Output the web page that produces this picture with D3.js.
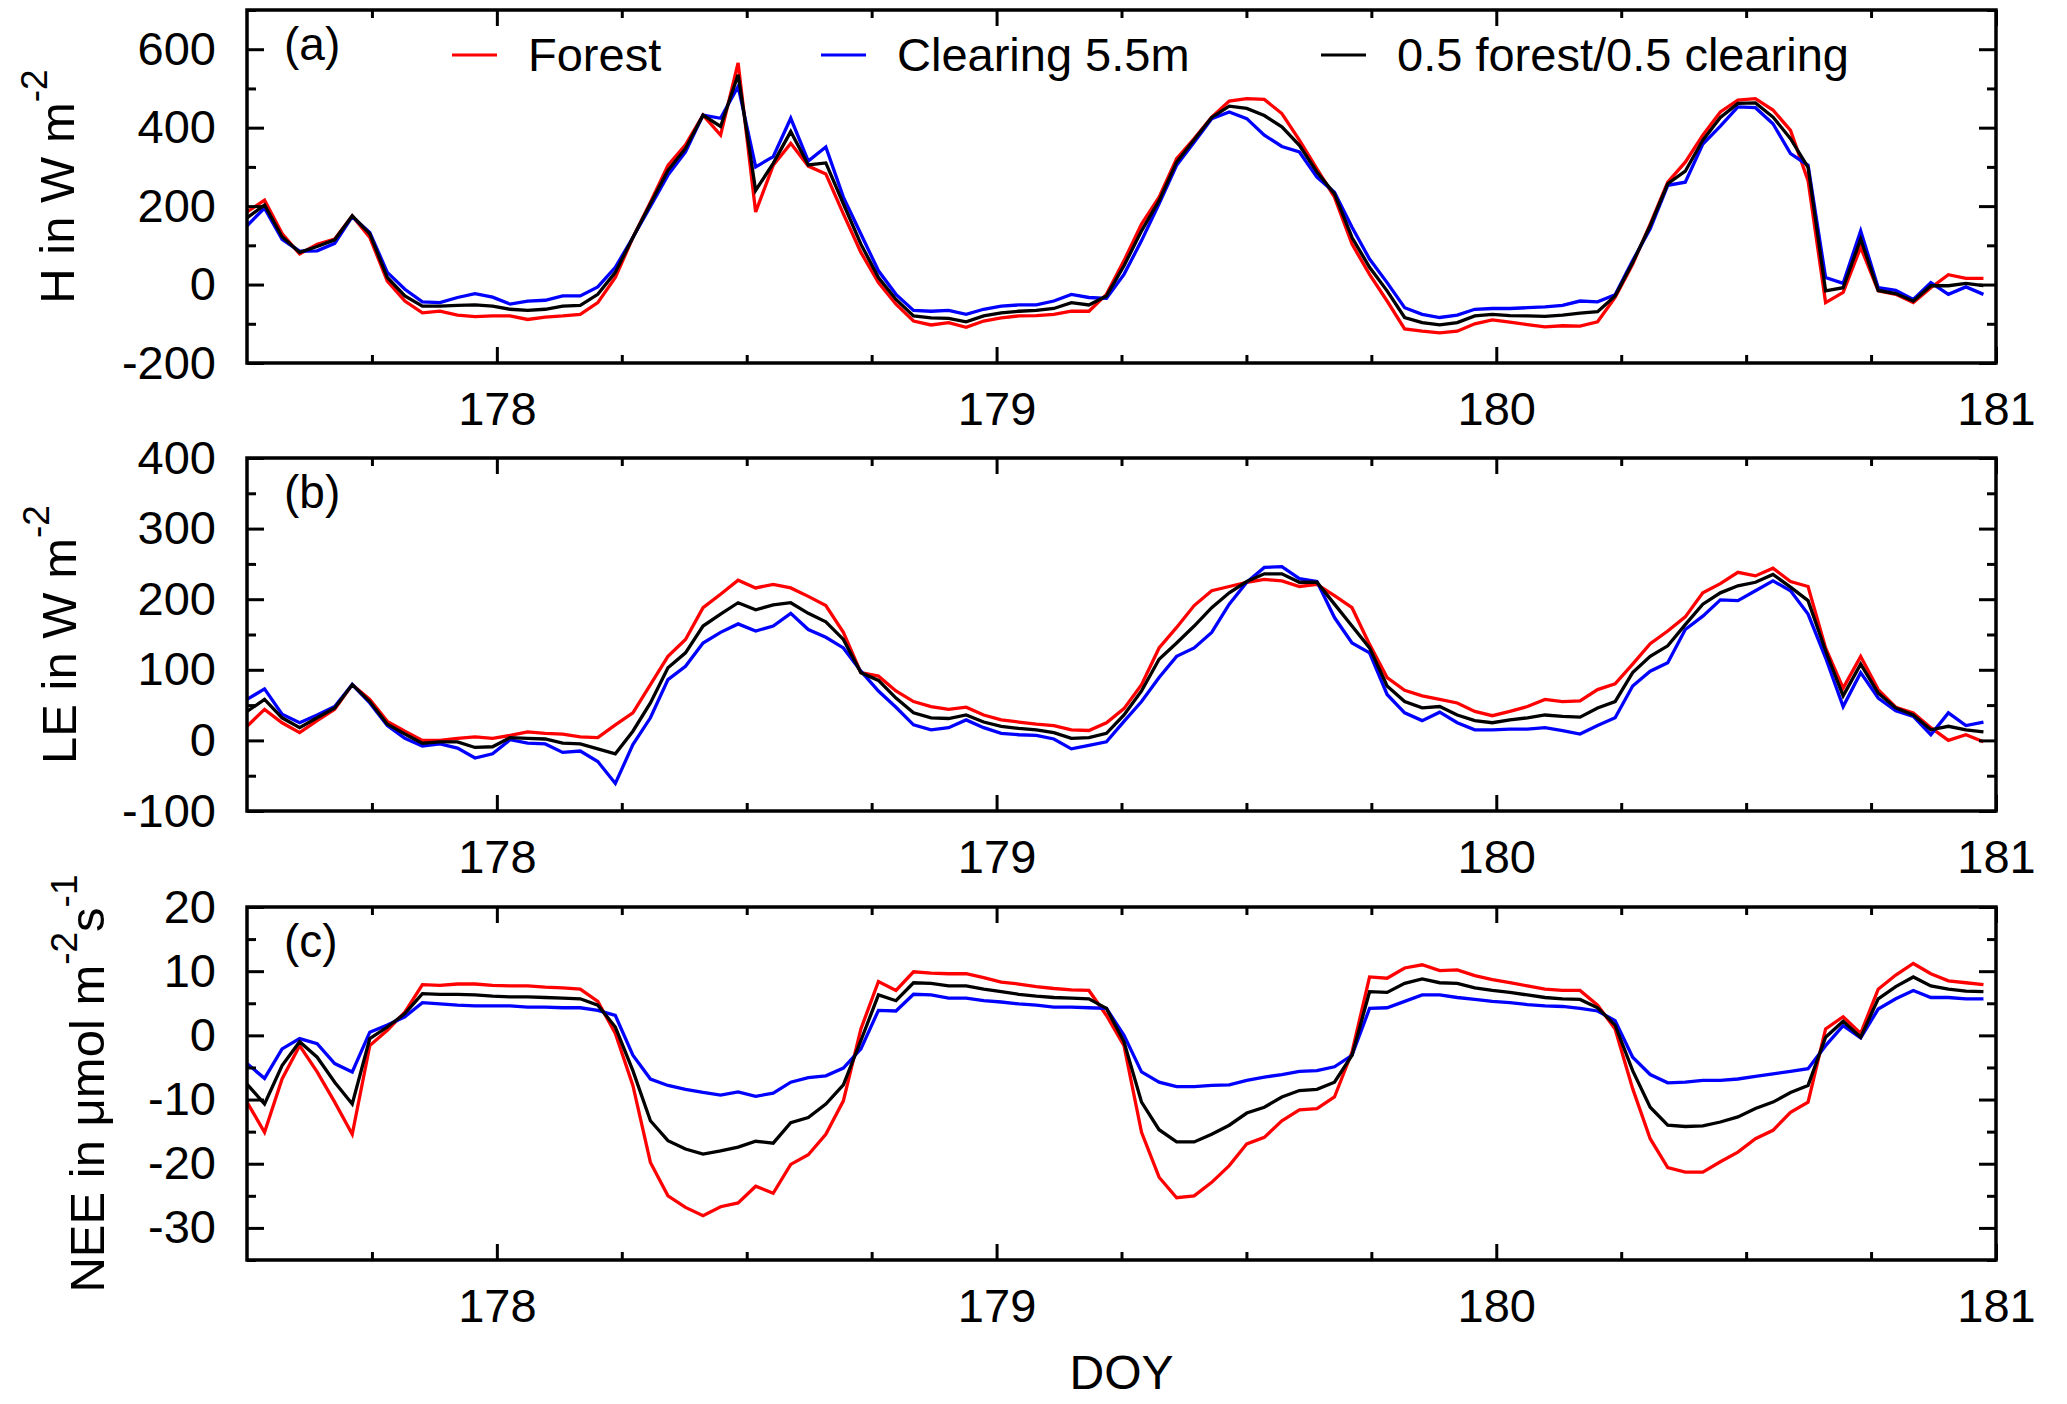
<!DOCTYPE html>
<html>
<head>
<meta charset="utf-8">
<script src="https://cdn.jsdelivr.net/npm/d3@7"></script>
<style>
body { margin: 0; background: #fff; }
svg text { font-family: "Liberation Sans", Arial, Helvetica, sans-serif; fill: #000; }
</style>
</head>
<body>
<div id="chart"></div>
<script>
var width = 2067;
var height = 1404;
var plotLeft = 247;
var plotRight = 1996;

// DOY of each sample: regular sampling, one value every 0.0351 day from 177.5
var doy = d3.range(100).map(i => 177.5 + i * 0.0351);

// (a) sensible heat flux H, W m-2
var hForest = [185, 215, 130, 78, 103, 116, 175, 120, 9, -42, -72, -68, -78, -82, -80, -80, -89, -83, -80, -76,
    -46, 18, 120, 210, 304, 356, 432, 381, 565, 185, 304, 360, 302, 282, 180, 82, 5, -50, -93, -103,
    -97, -109, -93, -85, -80, -79, -76, -68, -68, -25, 61, 154, 223, 321, 372, 427, 468, 474, 472, 436,
    368, 295, 223, 103, 26, -42, -113, -119, -123, -119, -100, -90, -96, -102, -108, -105, -106, -95, -33, 52,
    154, 261, 312, 381, 440, 470, 474, 445, 393, 265, -46, -20, 95, -16, -25, -46, -8, 25, 16, 16];
var hClearing = [150, 195, 115, 85, 86, 105, 173, 133, 31, -12, -44, -46, -33, -23, -32, -50, -42, -40, -29, -29,
    -6, 44, 120, 199, 279, 338, 432, 424, 505, 300, 326, 424, 315, 351, 223, 129, 35, -25, -66, -68,
    -66, -76, -63, -55, -52, -52, -42, -25, -33, -35, 26, 112, 206, 304, 363, 423, 440, 423, 381, 352,
    338, 274, 235, 146, 65, 5, -59, -76, -84, -78, -63, -61, -61, -59, -57, -53, -42, -44, -26, 61,
    142, 253, 261, 358, 404, 453, 451, 410, 334, 304, 18, 3, 137, -8, -15, -38, 5, -25, -6, -25];
var hMix = [170, 203, 122, 82, 97, 114, 175, 129, 18, -29, -55, -55, -53, -52, -55, -63, -66, -63, -55, -53,
    -25, 31, 120, 206, 291, 347, 432, 403, 535, 240, 309, 390, 305, 310, 206, 103, 18, -38, -80, -85,
    -86, -95, -80, -72, -68, -66, -61, -46, -52, -29, 48, 137, 214, 312, 369, 426, 455, 449, 431, 402,
    355, 287, 231, 120, 44, -16, -84, -97, -103, -97, -80, -76, -79, -80, -81, -78, -73, -69, -29, 56,
    150, 257, 289, 368, 426, 462, 463, 427, 372, 299, -16, -8, 116, -15, -23, -42, -3, -3, 3, -3];

// (b) latent heat flux LE, W m-2
var leForest = [20, 44, 25, 11, 28, 44, 79, 58, 27, 13, 0, 0, 3, 5, 3, 7, 12, 10, 9, 5,
    4, 22, 39, 79, 119, 143, 188, 207, 227, 216, 221, 216, 204, 191, 153, 96, 91, 70, 55, 48,
    44, 47, 36, 29, 26, 23, 21, 15, 14, 25, 45, 79, 131, 160, 191, 212, 218, 224, 228, 226,
    218, 221, 205, 188, 136, 89, 71, 63, 58, 53, 41, 35, 41, 48, 58, 55, 56, 72, 80, 108,
    137, 155, 175, 209, 222, 238, 233, 244, 225, 218, 131, 74, 119, 72, 47, 39, 18, 0, 8, -2];
var leClearing = [58, 73, 37, 25, 36, 48, 79, 53, 21, 3, -8, -5, -11, -25, -19, 1, -4, -5, -17, -15,
    -30, -61, -6, 32, 86, 105, 138, 153, 165, 155, 162, 180, 157, 146, 131, 98, 70, 47, 22, 15,
    18, 29, 18, 10, 8, 7, 2, -12, -7, -2, 27, 55, 89, 119, 131, 153, 193, 224, 245, 246,
    229, 225, 174, 138, 124, 65, 39, 28, 40, 25, 15, 15, 16, 16, 18, 14, 9, 21, 32, 77,
    98, 110, 157, 176, 199, 198, 212, 226, 212, 179, 117, 48, 96, 60, 42, 34, 8, 39, 21, 26];
var leMix = [41, 58, 32, 18, 32, 46, 79, 55, 23, 9, -4, -2, -2, -10, -9, 4, 3, 2, -4, -5,
    -12, -19, 13, 53, 103, 124, 162, 179, 195, 185, 192, 195, 180, 168, 143, 96, 85, 60, 39, 32,
    31, 36, 26, 20, 17, 15, 11, 3, 4, 10, 36, 70, 115, 138, 162, 188, 209, 225, 236, 236,
    224, 224, 193, 162, 131, 77, 55, 46, 48, 36, 28, 25, 29, 32, 36, 34, 33, 46, 55, 96,
    119, 134, 164, 193, 209, 219, 224, 235, 217, 198, 127, 63, 108, 67, 46, 36, 15, 20, 15, 12];

// (c) net ecosystem exchange NEE, umol m-2 s-1
var neeForest = [-10.4, -15.1, -6.8, -1.6, -5.7, -10.4, -15.4, -1.6, 0.8, 3.6, 7.9, 7.8, 8.0, 8.0, 7.8, 7.7, 7.7, 7.5, 7.4, 7.2,
    5.3, 0.3, -7.8, -19.8, -25.0, -26.8, -28.1, -26.7, -26.1, -23.5, -24.6, -20.1, -18.6, -15.4, -10.2, 1.0, 8.4, 7.0, 9.9, 9.7,
    9.6, 9.6, 9.0, 8.3, 8.0, 7.6, 7.3, 7.1, 7.0, 3.1, -1.6, -15.1, -22.1, -25.3, -25.0, -22.9, -20.3, -16.9, -15.9, -13.3,
    -11.6, -11.4, -9.6, -2.6, 9.1, 8.9, 10.5, 11.0, 10.1, 10.2, 9.3, 8.7, 8.2, 7.7, 7.2, 7.0, 7.0, 4.7, 1.0, -8.3,
    -16.1, -20.6, -21.3, -21.3, -19.7, -18.2, -16.1, -14.8, -12.0, -10.4, 1.0, 2.9, 0.3, 7.2, 9.4, 11.2, 9.6, 8.5, 8.2, 7.9];
var neeClearing = [-4.4, -6.7, -2.1, -0.5, -1.3, -4.4, -5.7, 0.5, 1.6, 2.9, 5.1, 4.9, 4.7, 4.6, 4.6, 4.6, 4.4, 4.4, 4.3, 4.3,
    3.9, 3.1, -3.1, -6.8, -7.8, -8.4, -8.9, -9.3, -8.8, -9.5, -9.0, -7.3, -6.6, -6.3, -5.1, -2.1, 3.9, 3.8, 6.4, 6.3,
    5.8, 5.8, 5.4, 5.2, 4.9, 4.7, 4.4, 4.4, 4.3, 4.2, 0.0, -5.7, -7.3, -8.0, -8.0, -7.8, -7.7, -7.0, -6.5, -6.1,
    -5.6, -5.5, -4.9, -3.1, 4.2, 4.3, 5.3, 6.3, 6.3, 5.9, 5.6, 5.3, 5.1, 4.8, 4.6, 4.5, 4.2, 3.8, 2.3, -3.4,
    -6.1, -7.4, -7.3, -7.0, -7.0, -6.8, -6.4, -6.0, -5.6, -5.2, -1.6, 1.5, -0.4, 4.1, 5.7, 7.0, 5.9, 5.9, 5.7, 5.7];
var neeMix = [-7.6, -10.7, -4.7, -1.0, -3.4, -7.3, -10.7, -0.5, 1.3, 3.4, 6.5, 6.4, 6.4, 6.3, 6.1, 6.0, 6.0, 5.9, 5.8, 5.7,
    4.7, 1.3, -5.5, -13.3, -16.4, -17.7, -18.5, -18.0, -17.4, -16.5, -16.8, -13.6, -12.8, -10.7, -7.7, -0.8, 6.3, 5.4, 8.2, 8.1,
    7.7, 7.7, 7.2, 6.8, 6.4, 6.1, 5.9, 5.8, 5.7, 4.2, -1.0, -10.4, -14.7, -16.6, -16.6, -15.4, -14.0, -12.1, -11.2, -9.6,
    -8.6, -8.4, -7.3, -3.1, 6.8, 6.7, 8.1, 8.8, 8.2, 8.1, 7.4, 7.0, 6.7, 6.3, 5.9, 5.7, 5.6, 4.3, 1.6, -5.5,
    -11.2, -14.0, -14.2, -14.1, -13.5, -12.7, -11.4, -10.4, -8.9, -7.8, -0.3, 2.2, -0.3, 5.7, 7.6, 9.1, 7.7, 7.2, 6.9, 6.8];

var xTicks = [178, 179, 180, 181];
var hTicks = [-200, 0, 200, 400, 600];
var leTicks = [-100, 0, 100, 200, 300, 400];
var neeTicks = [-30, -20, -10, 0, 10, 20];
var seriesNames = ["Forest", "Clearing 5.5m", "0.5 forest/0.5 clearing"];
var seriesColors = ["#ff0000", "#0000ff", "#000000"];

var panels = [
    { top: 10, bottom: 363, domain: [-200, 700], ticks: hTicks, minorStep: 100,
      series: [hForest, hClearing, hMix], letter: "(a)", labelX: 74,
      label: [["H in W m", 0], ["-2", 1]] },
    { top: 458, bottom: 811, domain: [-100, 400], ticks: leTicks, minorStep: 50,
      series: [leForest, leClearing, leMix], letter: "(b)", labelX: 76,
      label: [["LE in W m", 0], ["-2", 1]] },
    { top: 907, bottom: 1260, domain: [-35, 20], ticks: neeTicks, minorStep: 5,
      series: [neeForest, neeClearing, neeMix], letter: "(c)", labelX: 104,
      label: [["NEE in \u03bcmol m", 0], ["-2", 1], ["s", 0], ["-1", 1]] }
];

var x = d3.scaleLinear()
    .domain([177.5, 181])
    .range([plotLeft, plotRight]);

var xMinor = d3.range(177.75, 181, 0.25).filter(v => !xTicks.includes(v));

// plain labels: "178", "-200" (ascii hyphen like the original)
var plain = d => String(d);

var svg = d3.select("#chart")
    .append("svg")
    .attr("width", width)
    .attr("height", height);

function styleTicks(g) {
    g.select(".domain").remove();
    g.selectAll(".tick line")
        .attr("stroke", "#000")
        .attr("stroke-width", 3);
    g.selectAll(".tick text")
        .style("font-size", "47px")
        .style("font-family", "'Liberation Sans', Arial, sans-serif")
        .attr("fill", "#000");
}

panels.forEach(function (p, k) {

    var y = d3.scaleLinear()
        .domain(p.domain)
        .range([p.bottom, p.top]);

    var yMinor = d3.range(p.domain[0], p.domain[1] + 1e-9, p.minorStep)
        .filter(v => !p.ticks.some(t => Math.abs(t - v) < 1e-9));

    var g = svg.append("g");

    // data, clipped to the frame
    g.append("clipPath")
        .attr("id", "clip" + k)
        .append("rect")
        .attr("x", plotLeft)
        .attr("y", p.top)
        .attr("width", plotRight - plotLeft)
        .attr("height", p.bottom - p.top);

    var line = d3.line()
        .x((d, i) => x(doy[i]))
        .y(d => y(d));

    g.append("g")
        .attr("clip-path", "url(#clip" + k + ")")
        .selectAll("path")
        .data(p.series)
        .enter()
        .append("path")
        .attr("d", line)
        .attr("fill", "none")
        .attr("stroke", (d, i) => seriesColors[i])
        .attr("stroke-width", 3.3)
        .attr("stroke-linejoin", "miter");

    // ticks, all pointing inwards
    g.append("g")
        .attr("transform", `translate(${plotLeft},0)`)
        .call(d3.axisLeft(y).tickValues(p.ticks).tickSize(-17).tickPadding(31).tickFormat(plain))
        .call(styleTicks);
    g.append("g")
        .attr("transform", `translate(${plotLeft},0)`)
        .call(d3.axisLeft(y).tickValues(yMinor).tickSize(-9).tickFormat(""))
        .call(styleTicks);
    g.append("g")
        .attr("transform", `translate(${plotRight},0)`)
        .call(d3.axisRight(y).tickValues(p.ticks).tickSize(-17).tickFormat(""))
        .call(styleTicks);
    g.append("g")
        .attr("transform", `translate(${plotRight},0)`)
        .call(d3.axisRight(y).tickValues(yMinor).tickSize(-9).tickFormat(""))
        .call(styleTicks);

    g.append("g")
        .attr("transform", `translate(0,${p.bottom})`)
        .call(d3.axisBottom(x).tickValues(xTicks).tickSize(-16).tickPadding(29).tickFormat(plain))
        .call(styleTicks);
    g.append("g")
        .attr("transform", `translate(0,${p.bottom})`)
        .call(d3.axisBottom(x).tickValues(xMinor).tickSize(-8).tickFormat(""))
        .call(styleTicks);
    g.append("g")
        .attr("transform", `translate(0,${p.top})`)
        .call(d3.axisTop(x).tickValues(xTicks).tickSize(-16).tickFormat(""))
        .call(styleTicks);
    g.append("g")
        .attr("transform", `translate(0,${p.top})`)
        .call(d3.axisTop(x).tickValues(xMinor).tickSize(-8).tickFormat(""))
        .call(styleTicks);

    // frame
    g.append("rect")
        .attr("x", plotLeft)
        .attr("y", p.top)
        .attr("width", plotRight - plotLeft)
        .attr("height", p.bottom - p.top)
        .attr("fill", "none")
        .attr("stroke", "#000")
        .attr("stroke-width", 3.5);

    // panel letter
    g.append("text")
        .attr("x", 284)
        .attr("y", p.top + 50)
        .style("font-size", "46px")
        .text(p.letter);

    // y label with superscripts
    var ylab = g.append("text")
        .attr("transform", `translate(${p.labelX},${(p.top + p.bottom) / 2}) rotate(-90)`)
        .attr("text-anchor", "middle")
        .style("font-size", "49px");
    var shift = 0;
    p.label.forEach(function (part) {
        var up = part[1] ? -27 : 0;
        ylab.append("tspan")
            .attr("dy", up - shift)
            .style("font-size", part[1] ? "37px" : "49px")
            .text(part[0]);
        shift = up;
    });
});

// legend in panel (a)
var legendLineX = [452, 821, 1321];
var legend = svg.append("g");
seriesNames.forEach(function (name, i) {
    legend.append("line")
        .attr("x1", legendLineX[i])
        .attr("x2", legendLineX[i] + 45)
        .attr("y1", 55)
        .attr("y2", 55)
        .attr("stroke", seriesColors[i])
        .attr("stroke-width", 3);
    legend.append("text")
        .attr("x", legendLineX[i] + 76)
        .attr("y", 71)
        .style("font-size", "47px")
        .text(name);
});

svg.append("text")
    .attr("x", (plotLeft + plotRight) / 2)
    .attr("y", 1389)
    .attr("text-anchor", "middle")
    .style("font-size", "48px")
    .text("DOY");
</script>
</body>
</html>
